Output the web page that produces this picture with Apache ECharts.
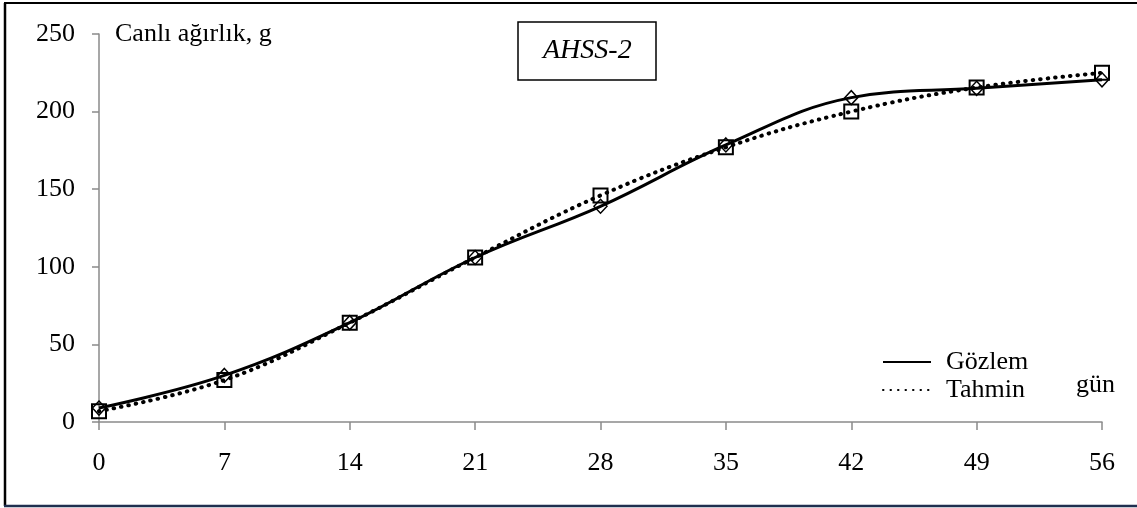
<!DOCTYPE html>
<html>
<head>
<meta charset="utf-8">
<script src="https://cdn.jsdelivr.net/npm/echarts@6/dist/echarts.min.js"></script>
<style>
  html, body { margin: 0; padding: 0; background: #fff; }
  #chart { width: 1137px; height: 508px; }
</style>
</head>
<body>
<div id="chart"></div>
<script>
// gün (days)
const days = [0, 7, 14, 21, 28, 35, 42, 49, 56];
// Gözlem (observed) live weight, g
const observed = [9, 30, 64, 106, 139, 178.5, 209, 215, 220.5];
// Tahmin (predicted) live weight, g
const predicted = [7, 27, 64, 106, 146, 177, 200, 215.5, 225];

const FONT = '"Liberation Serif", "Times New Roman", serif';
const AXIS_COLOR = '#8a8a8a';

const pairs = (ys) => days.map((d, i) => [d, ys[i]]);

let myChart = echarts.init(document.getElementById('chart'));
myChart.setOption({
  animation: false,
  backgroundColor: '#fff',
  textStyle: { fontFamily: FONT, color: '#000' },
  title: {
    text: 'AHSS-2',
    left: 518,
    top: 22,
    padding: [15, 25, 15, 25],
    borderColor: '#000',
    borderWidth: 1.5,
    textStyle: { fontFamily: FONT, fontStyle: 'italic', fontWeight: 'normal', fontSize: 28, color: '#000' }
  },
  legend: {
    orient: 'vertical',
    left: 877,
    top: 344,
    itemWidth: 48,
    itemHeight: 14,
    itemGap: 2,
    itemStyle: { opacity: 0 },
    textStyle: { fontFamily: FONT, fontSize: 26, color: '#000', padding: [0, 0, 0, 10] },
    data: ['Gözlem', 'Tahmin']
  },
  grid: { left: 99, right: 35, top: 34, bottom: 86 },
  xAxis: {
    type: 'value',
    min: 0,
    max: 56,
    interval: 7,
    name: 'gün',
    nameLocation: 'end',
    nameGap: 13,
    nameTextStyle: { fontFamily: FONT, fontSize: 26, color: '#000', align: 'right', verticalAlign: 'bottom', lineHeight: 74 },
    axisLine: { lineStyle: { color: AXIS_COLOR, width: 1.5 } },
    axisTick: { inside: false, length: 8, lineStyle: { color: AXIS_COLOR, width: 1.5 } },
    axisLabel: { fontFamily: FONT, fontSize: 26, color: '#000', margin: 28 },
    splitLine: { show: false }
  },
  yAxis: {
    type: 'value',
    min: 0,
    max: 250,
    interval: 50,
    name: 'Canlı ağırlık, g',
    nameLocation: 'end',
    nameGap: 0,
    nameTextStyle: { fontFamily: FONT, fontSize: 26, color: '#000', align: 'left', verticalAlign: 'middle', padding: [0, 0, 0, 16] },
    axisLine: { show: true, lineStyle: { color: AXIS_COLOR, width: 1.5 } },
    axisTick: { show: true, length: 7, lineStyle: { color: AXIS_COLOR, width: 1.5 } },
    axisLabel: { fontFamily: FONT, fontSize: 26, color: '#000', margin: 24 },
    splitLine: { show: false }
  },
  series: [
    {
      name: 'Tahmin',
      type: 'line',
      smooth: 0.4,
      data: pairs(predicted),
      symbol: 'rect',
      symbolSize: 14,
      color: '#000',
      lineStyle: { color: '#000', width: 4, type: [0.5, 7], cap: 'round' },
      itemStyle: { color: 'rgba(0,0,0,0)', borderColor: '#000', borderWidth: 2 },
      z: 2
    },
    {
      name: 'Gözlem',
      type: 'line',
      smooth: 0.4,
      data: pairs(observed),
      symbol: 'diamond',
      symbolSize: [13, 14],
      color: '#000',
      lineStyle: { color: '#000', width: 3 },
      itemStyle: { color: 'rgba(0,0,0,0)', borderColor: '#000', borderWidth: 1.5 },
      z: 3
    }
  ],
  graphic: [
    // frame around the figure (top, left, bottom)
    { type: 'line', shape: { x1: 4, y1: 3, x2: 1137, y2: 3 }, style: { stroke: '#000', lineWidth: 2 } },
    { type: 'line', shape: { x1: 5, y1: 3, x2: 5, y2: 506 }, style: { stroke: '#000', lineWidth: 2.5 } },
    { type: 'line', shape: { x1: 4, y1: 506, x2: 1137, y2: 506 }, style: { stroke: '#1f2f4f', lineWidth: 2.5 } }
  ]
});
</script>
</body>
</html>
